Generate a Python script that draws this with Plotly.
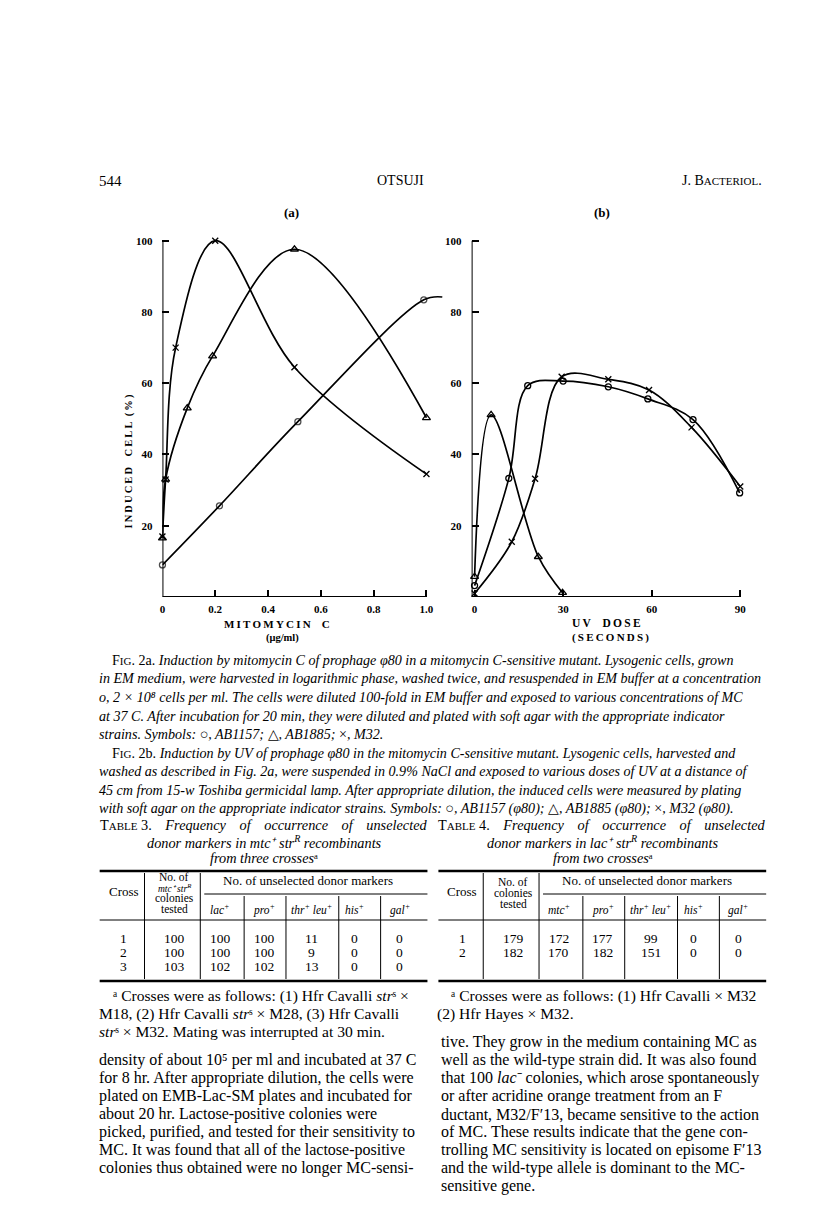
import plotly.graph_objects as go

# The page body adds an 8 px margin; the figure is sized so that it fills the rest of the window.
PAGE_W, PAGE_H = 816, 1210
OFF = 8
W, H = PAGE_W - OFF, PAGE_H - OFF
SERIF = "Liberation Serif"

# ---------------- data: Fig. 2a (mitomycin C) ----------------
mc_m32_x = [0, 0.012, 0.05, 0.2, 0.5, 1.0]
mc_m32_y = [17, 33, 70, 100, 64.5, 34.5]
mc_ab1885_x = [0, 0.012, 0.094, 0.19, 0.5, 1.0]
mc_ab1885_y = [16.5, 33, 53, 67.6, 97.6, 50.3]
mc_ab1157_x = [0, 0.216, 0.513, 0.99, 1.06]
mc_ab1157_y = [9, 25.6, 49.2, 83.4, 84.2]
mc_ticks = [0, 0.2, 0.4, 0.6, 0.8, 1.0]
mc_ticktext = ["0", "0.2", "0.4", "0.6", "0.8", "1.0"]

# ---------------- data: Fig. 2b (UV) ----------------
uv_ab1157_x = [0, 11.6, 18, 30, 45.3, 58.7, 74, 89.8]
uv_ab1157_y = [3.2, 33.3, 59.3, 60.6, 59, 55.6, 49.8, 29.2]
uv_ab1885_x = [0, 5.6, 21.6, 29.8]
uv_ab1885_y = [5.7, 51.1, 11.3, 1.2]
uv_m32_x = [0, 12.6, 20.5, 29.5, 45.3, 59.1, 73.5, 90]
uv_m32_y = [1, 15.5, 33.2, 61.8, 61.1, 58.1, 47.6, 31]
uv_ticks = [0, 30, 60, 90]
uv_ticktext = ["0", "30", "60", "90"]

y_ticks = [20, 40, 60, 80, 100]
y_ticktext = ["20", "40", "60", "80", "100"]

# ---------------- tables ----------------
t3_cross = ["1", "2", "3"]
t3_tested = ["100", "100", "103"]
t3_lac = ["100", "100", "102"]
t3_pro = ["100", "100", "102"]
t3_thrleu = ["11", "9", "13"]
t3_his = ["0", "0", "0"]
t3_gal = ["0", "0", "0"]
t3_sub = ["lac<sup>+</sup>", "pro<sup>+</sup>", "thr<sup>+</sup> leu<sup>+</sup>", "his<sup>+</sup>", "gal<sup>+</sup>"]

t4_cross = ["1", "2"]
t4_tested = ["179", "182"]
t4_mtc = ["172", "170"]
t4_pro = ["177", "182"]
t4_thrleu = ["99", "151"]
t4_his = ["0", "0"]
t4_gal = ["0", "0"]
t4_sub = ["mtc<sup>+</sup>", "pro<sup>+</sup>", "thr<sup>+</sup> leu<sup>+</sup>", "his<sup>+</sup>", "gal<sup>+</sup>"]

SC = '<span style="font-size:{}px">{}</span>'
G = "\u00a0" * 3 + "\u2009"  # wide gap used to spread the justified title lines

caption_lines = [
    "F" + SC.format(11, "IG") + ". 2a. <i>Induction by mitomycin C of prophage φ80 in a mitomycin C-sensitive mutant. Lysogenic cells, grown</i>",
    "<i>in EM medium, were harvested in logarithmic phase, washed twice, and resuspended in EM buffer at a concentration</i>",
    "<i>o, 2 × 10⁸ cells per ml. The cells were diluted 100-fold in EM buffer and exposed to various concentrations of MC</i>",
    "<i>at 37 C. After incubation for 20 min, they were diluted and plated with soft agar with the appropriate indicator</i>",
    "<i>strains. Symbols: </i>○<i>, AB1157; </i>△<i>, AB1885; </i>×<i>, M32.</i>",
    "F" + SC.format(11, "IG") + ". 2b. <i>Induction by UV of prophage φ80 in the mitomycin C-sensitive mutant. Lysogenic cells, harvested and</i>",
    "<i>washed as described in Fig. 2a, were suspended in 0.9% NaCl and exposed to various doses of UV at a distance of</i>",
    "<i>45 cm from 15-w Toshiba germicidal lamp. After appropriate dilution, the induced cells were measured by plating</i>",
    "<i>with soft agar on the appropriate indicator strains. Symbols: </i>○<i>, AB1157 (φ80); </i>△<i>, AB1885 (φ80); </i>×<i>, M32 (φ80).</i>",
]

t3_title = [
    "T" + SC.format(11, "ABLE") + " 3." + G + "<i>Frequency" + G + "of" + G + "occurrence" + G + "of" + G + "unselected</i>",
    "<i>donor markers in mtc⁺ str<sup>R</sup> recombinants</i>",
    "<i>from three crosses</i>ᵃ",
]
t4_title = [
    "T" + SC.format(11, "ABLE") + " 4." + G + "<i>Frequency" + G + "of" + G + "occurrence" + G + "of" + G + "unselected</i>",
    "<i>donor markers in lac⁺ str<sup>R</sup> recombinants</i>",
    "<i>from two crosses</i>ᵃ",
]
t3_foot = [
    "ᵃ Crosses were as follows: (1) Hfr Cavalli <i>str</i>ˢ ×",
    "M18, (2) Hfr Cavalli <i>str</i>ˢ × M28, (3) Hfr Cavalli",
    "<i>str</i>ˢ × M32. Mating was interrupted at 30 min.",
]
t4_foot = [
    "ᵃ Crosses were as follows: (1) Hfr Cavalli × M32",
    "(2) Hfr Hayes × M32.",
]
body_left = [
    "density of about 10⁵ per ml and incubated at 37 C",
    "for 8 hr. After appropriate dilution, the cells were",
    "plated on EMB-Lac-SM plates and incubated for",
    "about 20 hr. Lactose-positive colonies were",
    "picked, purified, and tested for their sensitivity to",
    "MC. It was found that all of the lactose-positive",
    "colonies thus obtained were no longer MC-sensi-",
]
body_right = [
    "tive. They grow in the medium containing MC as",
    "well as the wild-type strain did. It was also found",
    "that 100 <i>lac</i>⁻ colonies, which arose spontaneously",
    "or after acridine orange treatment from an F",
    "ductant, M32/F′13, became sensitive to the action",
    "of MC. These results indicate that the gene con-",
    "trolling MC sensitivity is located on episome F′13",
    "and the wild-type allele is dominant to the MC-",
    "sensitive gene.",
]


def PX(x):
    return (x - OFF) / W


def PY(y):
    return 1 - (y - OFF) / H


fig = go.Figure()

mk_line = dict(color="black", width=1.3)
LW = 1.7


def add_series(x, y, symbol, size, xa, ya, sizes=None):
    fig.add_trace(go.Scatter(
        x=x, y=y, mode="lines+markers", xaxis=xa, yaxis=ya,
        line=dict(color="black", width=LW, shape="spline", smoothing=1.0),
        marker=dict(symbol=symbol, size=sizes if sizes else size, color="black", line=mk_line),
        cliponaxis=False, showlegend=False, hoverinfo="skip"))


add_series(mc_ab1157_x, mc_ab1157_y, "circle-open", 6, "x", "y",
           sizes=[6] * (len(mc_ab1157_x) - 1) + [0])
add_series(mc_ab1885_x, mc_ab1885_y, "triangle-up-open", 7, "x", "y")
add_series(mc_m32_x, mc_m32_y, "x-thin", 6, "x", "y")

add_series(uv_ab1157_x, uv_ab1157_y, "circle-open", 6, "x2", "y2")
add_series(uv_ab1885_x, uv_ab1885_y, "triangle-up-open", 7, "x2", "y2")
add_series(uv_m32_x, uv_m32_y, "x-thin", 6, "x2", "y2")

# axis geometry (page pixels)
Y0, Y100 = 597.0, 240.7
ppu = (Y0 - Y100) / 100.0
y_rng = [0, 103]
y_dom = [PY(Y0), PY(Y0 - 103 * ppu)]
ax_a0, ax_a_ppu = 160.0, 265.0
xa_rng = [0, 1.08]
xa_dom = [PX(ax_a0), PX(ax_a0 + 1.08 * ax_a_ppu)]
ax_b0, ax_b_ppu = 473.3, 2.963
xb_rng = [-1, 92]
xb_dom = [PX(ax_b0 - ax_b_ppu), PX(ax_b0 + 92 * ax_b_ppu)]

tickfont = dict(family=SERIF, size=11, color="black", weight="bold")
common_x = dict(showgrid=False, zeroline=False, showline=False, ticks="inside",
                ticklen=7, tickwidth=2, tickcolor="black", tickfont=tickfont,
                fixedrange=True, ticklabelstandoff=4)
common_y = dict(showgrid=False, zeroline=False, showline=False, ticks="inside",
                ticklen=7, tickwidth=2, tickcolor="black", tickfont=tickfont,
                tickvals=y_ticks, ticktext=y_ticktext, range=y_rng, domain=y_dom,
                fixedrange=True, ticklabelstandoff=9)

fig.update_layout(
    width=W, height=H, margin=dict(l=0, r=0, t=0, b=0), autosize=False,
    paper_bgcolor="white", plot_bgcolor="rgba(0,0,0,0)", showlegend=False,
    xaxis=dict(common_x, domain=xa_dom, range=xa_rng, tickvals=mc_ticks, ticktext=mc_ticktext, anchor="y"),
    yaxis=dict(common_y, anchor="x"),
    xaxis2=dict(common_x, domain=xb_dom, range=xb_rng, tickvals=uv_ticks, ticktext=uv_ticktext, anchor="y2"),
    yaxis2=dict(common_y, anchor="x2"),
)

shapes = []
# axis lines drawn in data coordinates
shapes.append(dict(type="line", xref="x", yref="y", x0=0, x1=1.0, y0=0, y1=0, line=dict(color="black", width=2)))
shapes.append(dict(type="line", xref="x", yref="y", x0=0, x1=0, y0=0, y1=100, line=dict(color="black", width=2)))
shapes.append(dict(type="line", xref="x2", yref="y2", x0=-1, x1=90, y0=0, y1=0, line=dict(color="black", width=2)))
shapes.append(dict(type="line", xref="x2", yref="y2", x0=-1, x1=-1, y0=0, y1=100, line=dict(color="black", width=2)))

anns = []


def T(text, x, y, size=13, xanchor="left", family=SERIF, angle=0, yanchor="middle"):
    anns.append(dict(text=text, x=PX(x), y=PY(y), xref="paper", yref="paper",
                     xanchor=xanchor, yanchor=yanchor, showarrow=False, textangle=angle,
                     borderpad=0, font=dict(family=family, size=size, color="black")))


def HL(x0, x1, y, w=1):
    shapes.append(dict(type="line", xref="paper", yref="paper", x0=PX(x0), x1=PX(x1),
                       y0=PY(y), y1=PY(y), line=dict(color="black", width=w)))


def VL(x, y0, y1, w=1):
    shapes.append(dict(type="line", xref="paper", yref="paper", x0=PX(x), x1=PX(x),
                       y0=PY(y0), y1=PY(y1), line=dict(color="black", width=w)))


def spaced(s):
    return "\u2009".join(s)


# page header
T("544", 95, 181, 15)
T("OTSUJI", 399, 181, 14, "center")
T("J. B" + SC.format(11, "ACTERIOL") + ".", 763, 181, 14, "right")
T("<b>(a)</b>", 290, 213, 13, "center")
T("<b>(b)</b>", 601, 213, 13, "center")

# axis titles
T("<b>" + spaced("INDUCED") + "\u2003" + spaced("CELL") + "\u2002" + spaced("(%)") + "</b>", 126, 462, 10.5, "center", angle=-90)
T("<b>" + spaced("MITOMYCIN") + "\u2003" + "C</b>", 275, 624, 11, "center")
T("<b>(μg/ml)</b>", 281, 638, 10.5, "center")
T("<b>" + spaced("UV") + "\u2003" + spaced("DOSE") + "</b>", 606, 623, 11.5, "center")
T("<b>" + spaced("(SECONDS)") + "</b>", 610, 637, 11, "center")

# caption
cap_y0, cap_dy = 660, 18.5
for i, line in enumerate(caption_lines):
    x = 108 if line.startswith("F") else 95
    T(line, x, cap_y0 + i * cap_dy, 14.1)


def table(dx, title, sub, cols, nrows, foot):
    ty = [825, 842, 858]
    T(title[0], 96 + dx, ty[0], 14.3)
    T(title[1], 262 + dx, ty[1], 14.3, "center")
    T(title[2], 262 + dx, ty[2], 14.3, "center")
    HL(97 + dx, 426 + dx, 871, 2.4)
    T("Cross", 121 + dx, 891, 13, "center")
    T("No. of unselected donor markers", 306 + dx, 880, 13, "center")
    HL(202 + dx, 426 + dx, 894, 1)
    subx = [218, 262, 310, 353, 398]
    for s, sx in zip(sub, subx):
        T("<i>" + s + "</i>", sx + dx, 909, 11.5, "center")
    HL(97 + dx, 426 + dx, 920, 1)
    HL(97 + dx, 426 + dx, 981, 2.4)
    for vx in [142, 198]:
        VL(vx + dx, 873, 979)
    for vx in [242, 284, 337, 379]:
        VL(vx + dx, 896, 979)
    colx = [121, 172, 218, 262, 310, 353, 398]
    rows_y = [938, 952, 966]
    for c, cx in zip(cols, colx):
        for r in range(nrows):
            T(c[r], cx + dx, rows_y[r], 13.5, "center")
    for i, f in enumerate(foot):
        T(f, (109 if i == 0 else 95) + dx, 996 + i * 17.5, 15.6)


# table 3
table(0, t3_title, t3_sub, [t3_cross, t3_tested, t3_lac, t3_pro, t3_thrleu, t3_his, t3_gal], 3, t3_foot)
T("No. of", 172, 877, 11.5, "center")
T("<i>mtc⁺ str<sup>R</sup></i>", 172, 887.5, 9.5, "center")
T("colonies", 172, 898, 11.5, "center")
T("tested", 172, 909, 11.5, "center")
# table 4
table(340, t4_title, t4_sub, [t4_cross, t4_tested, t4_mtc, t4_pro, t4_thrleu, t4_his, t4_gal], 2, t4_foot)
T("No. of", 512, 882, 11.5, "center")
T("colonies", 512, 893, 11.5, "center")
T("tested", 512, 904, 11.5, "center")

# body text
for i, line in enumerate(body_left):
    T(line, 95, 1060 + i * 18, 16)
for i, line in enumerate(body_right):
    T(line, 439, 1042 + i * 18, 16)

fig.update_layout(shapes=shapes, annotations=anns)
fig.write_html("out.html")
